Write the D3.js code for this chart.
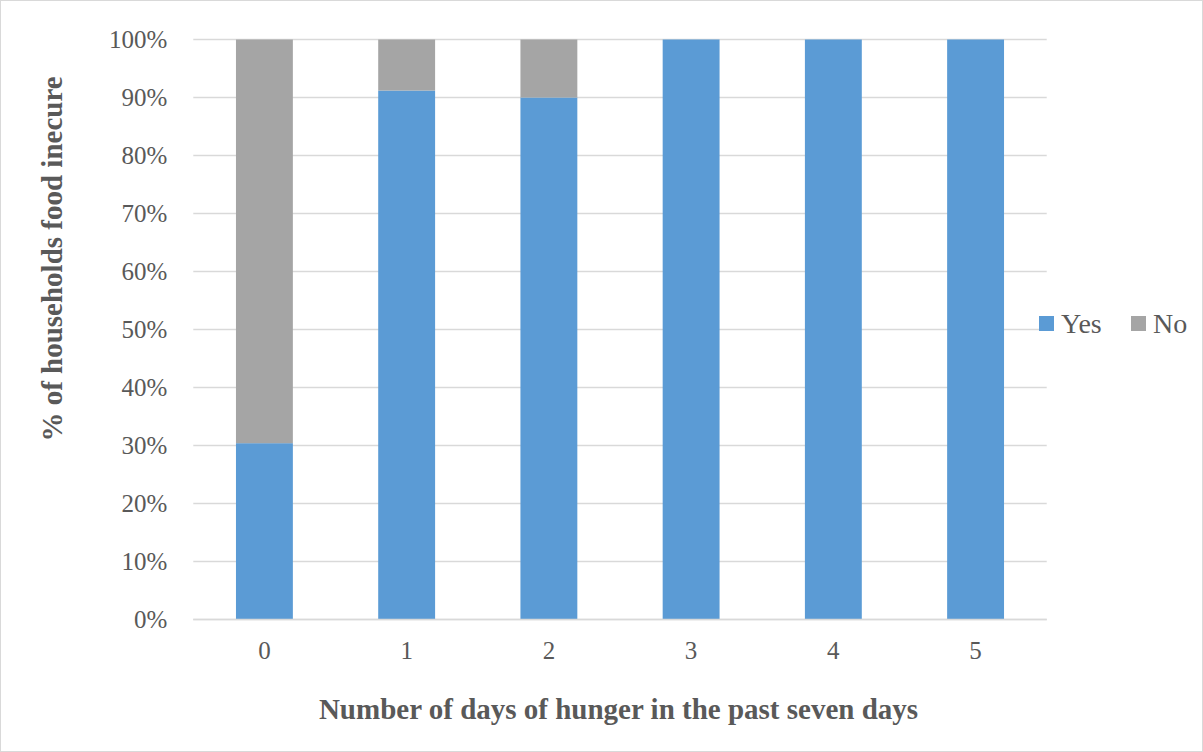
<!DOCTYPE html>
<html><head><meta charset="utf-8">
<script src="https://cdn.jsdelivr.net/npm/d3@7"></script>
<style>body{margin:0;background:#fff}svg{display:block}</style>
</head><body>
<script>
const categories = ["0","1","2","3","4","5"];
const yesValues = [30.4, 91.2, 90.0, 100, 100, 100];
const noValues = [69.6, 8.8, 10.0, 0, 0, 0];
const seriesNames = ["Yes","No"];
const colors = ["#5B9BD5","#A5A5A5"];
const yTicks = [0,10,20,30,40,50,60,70,80,90,100];

(function(){
const W=1203,H=752;
const svg=d3.select("body").append("svg").attr("width",W).attr("height",H);
svg.append("rect").attr("x",0.5).attr("y",0.5).attr("width",W-1).attr("height",H-1).attr("fill","#fff").attr("stroke","#d9d9d9");

const pl=193.3,pr=1046.7,pt=39.5,pb=619.5;
const x=d3.scaleBand().domain(categories).range([pl,pr]).padding(0);
const y=d3.scaleLinear().domain([0,100]).range([pb,pt]);
const font="'Liberation Serif','Times New Roman',serif";

const grid=svg.append("g");
yTicks.forEach(t=>{
  grid.append("line").attr("x1",pl).attr("x2",pr).attr("y1",y(t)).attr("y2",y(t)).attr("stroke","#d9d9d9").attr("stroke-width",1.3);
});

const stack=d3.stack().keys(seriesNames)(categories.map((c,i)=>({cat:c,Yes:yesValues[i],No:noValues[i]})));
const bw=x.bandwidth()*0.4;
stack.forEach((s,si)=>{
  svg.append("g").selectAll("rect").data(s.filter(d=>d[1]-d[0]>0)).join("rect")
    .attr("x",d=>x(d.data.cat)+x.bandwidth()/2-bw/2)
    .attr("width",bw)
    .attr("y",d=>y(d[1]))
    .attr("height",d=>y(d[0])-y(d[1]))
    .attr("fill",colors[si]);
});
svg.append("line").attr("x1",pl).attr("x2",pr).attr("y1",pb).attr("y2",pb).attr("stroke","#d9d9d9").attr("stroke-width",1.3);

const yAxis=d3.axisLeft(y).tickValues(yTicks).tickFormat(d=>d+"%").tickSize(0).tickPadding(26);
const ya=svg.append("g").attr("transform",`translate(${pl},0)`).call(yAxis);
ya.select(".domain").remove();
ya.selectAll("text").attr("font-family",font).attr("font-size",25).attr("fill","#595959").attr("dy","0.32em");

const xAxis=d3.axisBottom(x).tickSize(0).tickPadding(22);
const xa=svg.append("g").attr("transform",`translate(0,${pb})`).call(xAxis);
xa.select(".domain").remove();
xa.selectAll("text").attr("font-family",font).attr("font-size",25).attr("fill","#595959");

svg.append("text").attr("x",618.5).attr("y",719).attr("text-anchor","middle")
  .attr("font-family",font).attr("font-size",29).attr("font-weight","bold").attr("fill","#595959")
  .text("Number of days of hunger in the past seven days");
svg.append("text").attr("transform","translate(62,259) rotate(-90)").attr("text-anchor","middle")
  .attr("font-family",font).attr("font-size",29).attr("font-weight","bold").attr("fill","#595959")
  .text("% of households food inecure");

const legX=[1039,1131];
seriesNames.forEach((n,i)=>{
  svg.append("rect").attr("x",legX[i]).attr("y",316).attr("width",15).attr("height",15).attr("fill",colors[i]);
  svg.append("text").attr("x",legX[i]+22).attr("y",333).attr("font-family",font).attr("font-size",28).attr("fill","#595959").text(n);
});
})();
</script>
</body></html>
